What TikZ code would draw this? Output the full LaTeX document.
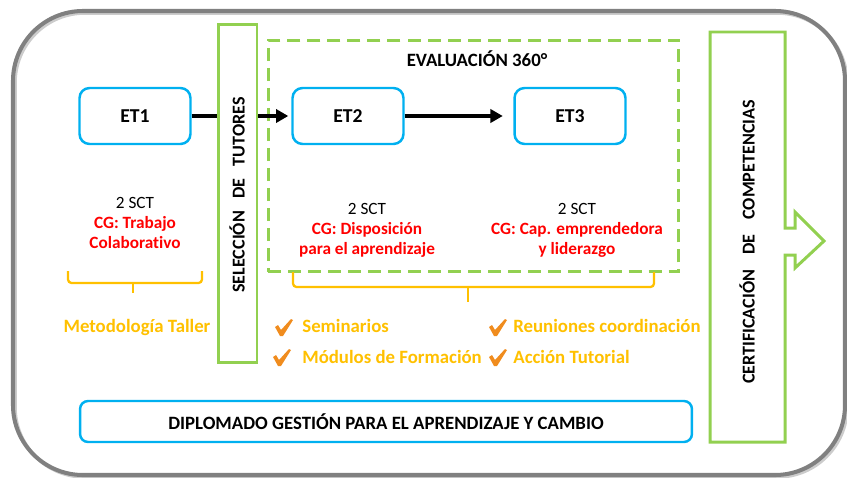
\documentclass[tikz,border=0pt]{standalone}
\usepackage{fontspec}
\setmainfont{Carlito}[Ligatures=NoCommon]
\usetikzlibrary{arrows.meta}
\definecolor{cblue}{RGB}{0,176,240}
\definecolor{cgreen}{RGB}{146,208,80}
\definecolor{corange}{RGB}{255,192,0}
\definecolor{cred}{RGB}{255,0,0}
\definecolor{cgray}{RGB}{128,128,128}
\definecolor{cchk}{RGB}{240,140,30}
\begin{document}
\begin{tikzpicture}[x=0.02cm,y=-0.02cm,
  etbox/.style={draw=cblue,line width=1.4pt,rounded corners=0.2cm,minimum width=2.22cm,minimum height=1.12cm,inner sep=0pt,text height=1.45ex,text depth=0pt,font=\fontsize{11.2}{13}\selectfont\bfseries,fill=white},
  arr/.style={line width=2.3pt,-{Triangle[length=7pt,width=7.5pt]}},
  greenbox/.style={draw=cblue,line width=1.7pt,fill=white,inner sep=0pt},
  bold10/.style={font=\fontsize{10.7}{12.5}\selectfont\bfseries},
  vert/.style={font=\fontsize{10.3}{12}\selectfont\bfseries,rotate=90},
  info/.style={align=center,font=\fontsize{9.8}{11.4}\selectfont,inner sep=0pt},
  orangetxt/.style={text=corange,font=\fontsize{10.7}{12.5}\selectfont\bfseries,inner sep=0pt},
  brace/.style={draw=corange,line width=1.3pt,rounded corners=2pt},
  chk/.pic={\fill[cchk] (-9,0) -- (-6,-2) -- (-3,3) -- (7,-8) -- (9,-7) -- (-1,9) -- (-4,9) -- cycle;}
]
\useasboundingbox (0,0) rectangle (847,477);
% outer frame
\draw[black,opacity=0.2,line width=2pt,rounded corners=1.4cm] (15,13) rectangle (847,477);
\draw[cgray,line width=2.3pt,rounded corners=1.4cm] (13,11) rectangle (845,475);

% evaluation frame
\node[draw=cgreen,line width=1.7pt,dash pattern=on 7.4pt off 4pt,minimum width=8.22cm,minimum height=4.64cm,inner sep=0pt] (evalframe) at (473.5,156) {};
\node[bold10] (evaltitle) at (477,59) {EVALUACIÓN 360°};

% ET boxes
\node[etbox] (et1) at (135,116) {ET1};
\node[etbox] (et2) at (348,116) {ET2};
\node[etbox] (et3) at (570,116) {ET3};

\draw[arr,shorten >=1.7pt] (et1.east) -- (et2.west);
\draw[arr,shorten >=6pt] (et2.east) -- (et3.west);

% selection box
\node[draw=cgreen,line width=1.7pt,fill=white,inner sep=0pt,minimum width=0.78cm,minimum height=6.78cm] (sel) at (237.5,193.5) {};
\node[vert] (seltxt) at (237,195) {SELECCIÓN\hspace{0.45em} DE\hspace{0.45em} TUTORES};

% certification arrow shape
\draw[cgreen,line width=1.7pt,fill=white] (710,32) -- (785,32) -- (785,228) -- (795,228) -- (795,212) -- (824,241) -- (795,268) -- (795,255) -- (785,255) -- (785,442) -- (710,442) -- cycle;
\node[vert] (cert) at (747,242) {CERTIFICACIÓN\hspace{0.6em} DE\hspace{0.6em} COMPETENCIAS};

% info texts
\node[info] (info1) at (135,223) {2 SCT\\ \textcolor{cred}{\bfseries CG: Trabajo}\\ \textcolor{cred}{\bfseries Colaborativo}};
\node[info] (info2) at (367,230) {2 SCT\\ \textcolor{cred}{\bfseries CG: Disposición}\\ \textcolor{cred}{\bfseries para el aprendizaje}};
\node[info] (info3) at (577,230) {2 SCT\\ \textcolor{cred}{\bfseries CG: Cap. emprendedora}\\ \textcolor{cred}{\bfseries y liderazgo}};

% braces
\draw[brace] (68,271) -- (68,283) -- (202,283) -- (202,271);
\draw[brace] (133,283) -- (133,293);
\draw[brace] (293,272) -- (293,287) -- (654,287) -- (654,272);
\draw[brace] (468,287) -- (468,302);

\node[orangetxt] (metod) at (137,327) {Metodología Taller};

% checks
\pic at (284,327) {chk};
\pic at (282,357) {chk};
\pic at (498,327) {chk};
\pic at (498,357) {chk};
\node[orangetxt,anchor=west] (sem) at (302,326) {Seminarios};
\node[orangetxt,anchor=west] (mod) at (302,357) {Módulos de Formación};
\node[orangetxt,anchor=west] (reu) at (513,326) {Reuniones coordinación};
\node[orangetxt,anchor=west] (acc) at (513,357) {Acción Tutorial};

% diplomado
\node[draw=cblue,line width=1.4pt,rounded corners=0.16cm,minimum width=12.24cm,minimum height=0.82cm,inner sep=0pt,bold10] (dipl) at (386,421.5) {DIPLOMADO GESTIÓN PARA EL APRENDIZAJE Y CAMBIO};
\end{tikzpicture}
\end{document}
